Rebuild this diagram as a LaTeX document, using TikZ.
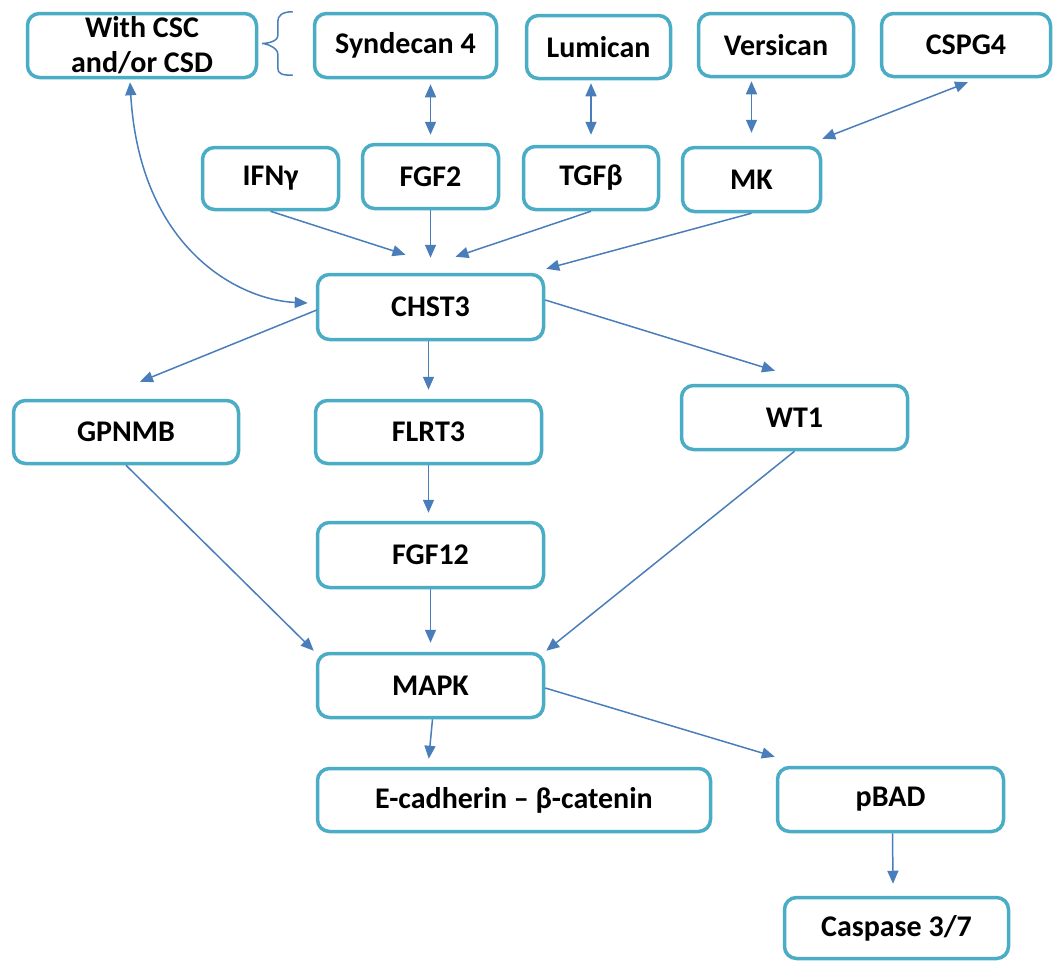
\documentclass[tikz,border=0pt]{standalone}
\usepackage{fontspec}
\setmainfont{Carlito}
\usetikzlibrary{arrows.meta,calc}
\definecolor{boxline}{HTML}{4BACC6}
\definecolor{arrowblue}{HTML}{4A7EBB}
\tikzset{
  box/.style={draw=boxline, line width=3.5pt, rounded corners=12pt, fill=white,
    inner sep=0pt, align=center, font=\fontsize{30}{35}\selectfont\bfseries},
  link/.style={draw=arrowblue, line width=1.5pt,
    -{Triangle[length=13pt,width=11pt]}},
  twoway/.style={link, {Triangle[length=13pt,width=11pt]}-{Triangle[length=13pt,width=11pt]}},
  bracket/.style={draw=arrowblue, line width=1.5pt}
}
\begin{document}
\begin{tikzpicture}[x=1pt,y=-1pt]
\useasboundingbox (0,0) rectangle (1057,961);
% top row
\node[box, minimum width=229pt, minimum height=64pt] (csc)  at (142,45.5) {With CSC\\and/or CSD};
\node[box, minimum width=182pt, minimum height=64pt] (syn)  at (405.5,45.5) {Syndecan 4};
\node[box, minimum width=144pt, minimum height=63pt] (lum)  at (598.5,47) {Lumican};
\node[box, minimum width=155pt, minimum height=63pt] (ver)  at (776,45) {Versican};
\node[box, minimum width=169pt, minimum height=63pt] (cspg) at (966,45) {CSPG4};
% growth factors
\node[box, minimum width=136pt, minimum height=62pt] (ifn)  at (270.5,178.5) {IFNγ};
\node[box, minimum width=136pt, minimum height=64pt] (fgf2) at (430.5,176.5) {FGF2};
\node[box, minimum width=135pt, minimum height=63pt] (tgf)  at (591,178) {TGFβ};
\node[box, minimum width=138pt, minimum height=64pt] (mk)   at (751.5,179.5) {MK};
% central enzyme
\node[box, minimum width=226pt, minimum height=65pt] (chst) at (430.5,307) {CHST3};
% targets
\node[box, minimum width=225pt, minimum height=63pt] (gpnmb) at (126,432) {GPNMB};
\node[box, minimum width=226pt, minimum height=63pt] (flrt)  at (428.5,432) {FLRT3};
\node[box, minimum width=226pt, minimum height=64pt] (wt1)   at (794.5,417.5) {WT1};
\node[box, minimum width=226pt, minimum height=65pt] (fgf12) at (430.5,555) {FGF12};
\node[box, minimum width=226pt, minimum height=64pt] (mapk)  at (430.5,685.5) {MAPK};
\node[box, minimum width=393pt, minimum height=63pt] (ecad)  at (514,800) {E-cadherin – β-catenin};
\node[box, minimum width=226pt, minimum height=64pt] (pbad)  at (890.5,799.5) {pBAD};
\node[box, minimum width=224pt, minimum height=61pt] (casp)  at (896.5,928) {Caspase 3/7};

% curly bracket between the CSC box and the proteoglycan row
\draw[bracket] ($(syn.north west)+(-20,0)$)
  .. controls +(-11,0) and +(0,-6) .. ++(-15,10) -- ++(0,14)
  .. controls +(0,6) and +(4,0) .. ($(csc.east)+(4,-2)$)
  .. controls +(4,0) and +(0,-6) .. ($(syn.north west)+(-35,42)$) -- ++(0,14)
  .. controls +(0,6) and +(-11,0) .. ($(syn.south west)+(-20,-4)$);

% proteoglycan -- growth factor interactions
\draw[twoway] ($(fgf2.north|-syn.south)+(0,5)$) -- ($(fgf2.north)+(0,-8)$);
\draw[twoway] ($(tgf.north|-lum.south)+(0,3)$) -- ($(tgf.north)+(0,-10)$);
\draw[twoway] ($(mk.north|-ver.south)+(0,3)$) -- ($(mk.north)+(0,-13)$);
\draw[twoway] ($(cspg.south)+(2,4)$) -- ($(mk.north east)+(0,-7)$);

% inputs to CHST3
\draw[link] (ifn.south) -- ($(chst.north)+(-25,-18)$);
\draw[link] (fgf2.south) -- ($(chst.north)+(0,-15)$);
\draw[link] (tgf.south) -- ($(chst.north)+(25,-16)$);
\draw[link] (mk.south) -- ($(chst.north east)+(1,-4)$);
\draw[twoway] ($(csc.south)+(-12,3)$) .. controls (140,250) and (240,300) .. ($(chst.west)+(-8,-4)$);

% outputs of CHST3
\draw[link] ($(chst.west)+(1,3)$) -- ($(gpnmb.north)+(14,-17)$);
\draw[link] (flrt.north|-chst.south) -- ($(flrt.north)+(0,-9)$);
\draw[link] ($(chst.east)+(0,-7)$) -- ($(wt1.north)+(-19.5,-13)$);
\draw[link] (flrt.south) -- ($(fgf12.north)+(-2,-8)$);

% convergence on MAPK
\draw[link] (gpnmb.south) -- ($(mapk.north west)+(-2,-1)$);
\draw[link] (fgf12.south) -- ($(mapk.north)+(0,-9)$);
\draw[link] (wt1.south) -- ($(mapk.north east)+(1,-1)$);

% downstream effects
\draw[link] ($(mapk.south)+(2,0)$) -- ($(ecad.north west)+(113,-8)$);
\draw[link] ($(mapk.east)+(0,2.5)$) -- ($(pbad.north west)+(-1,-9)$);
\draw[link] ($(pbad.south)+(2,0)$) -- ($(casp.north)+(-3.5,-12)$);
\end{tikzpicture}
\end{document}
